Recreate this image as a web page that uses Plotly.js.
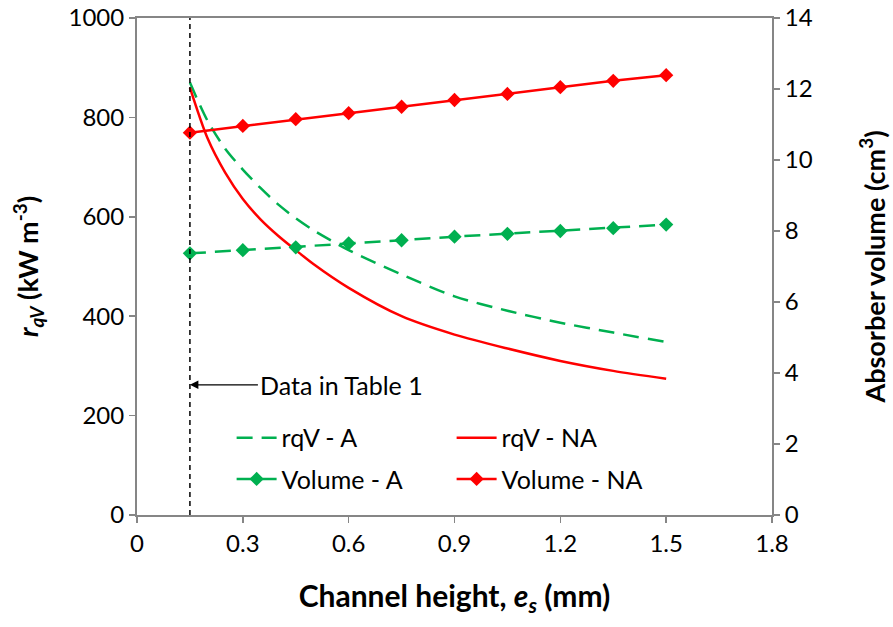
<!DOCTYPE html>
<html>
<head>
<meta charset="utf-8">
<script src="https://cdn.plot.ly/plotly-3.0.1.min.js"></script>
<style>html,body{margin:0;padding:0;background:#fff;}#chart{width:893px;height:627px;}</style>
</head>
<body>
<div id="chart"></div>
<script>
// Channel height (mm) for the rqV curves
const rqvX = [0.15, 0.2, 0.25, 0.3, 0.35, 0.4, 0.45, 0.5, 0.6, 0.75, 0.9, 1.05, 1.2, 1.35, 1.5];
// rqV (kW m-3), case A (dashed green)
const rqvA = [870, 793, 737, 695, 658, 625, 597, 573, 533, 484, 440, 411, 387, 367, 348];
// rqV (kW m-3), case NA (solid red)
const rqvNA = [860, 758, 689, 636, 595, 562, 533, 505, 457, 400, 363, 335, 310, 290, 274];
// Channel height (mm) for the volume points
const volX = [0.15, 0.3, 0.45, 0.6, 0.75, 0.9, 1.05, 1.2, 1.35, 1.5];
// Absorber volume (cm3)
const volA = [7.37, 7.46, 7.54, 7.65, 7.74, 7.84, 7.92, 8.0, 8.08, 8.18];
const volNA = [10.77, 10.96, 11.15, 11.32, 11.50, 11.69, 11.86, 12.05, 12.23, 12.39];
// Marked design point
const tableX = 0.15;
const tableLabelY = 262;

const xTicks = [0, 0.3, 0.6, 0.9, 1.2, 1.5, 1.8];
const yTicks = [0, 200, 400, 600, 800, 1000];
const y2Ticks = [0, 2, 4, 6, 8, 10, 12, 14];

const GREEN = '#00B050';
const RED = '#FF0000';
const AXIS = '#868686';
const FONT = 'Lato, "Open Sans", sans-serif';

const traces = [
  {x: rqvX, y: rqvA, name: 'rqV - A', type: 'scatter', mode: 'lines',
   line: {color: GREEN, width: 2.5, dash: '16px,9px', shape: 'spline', smoothing: 0.8},
   yaxis: 'y', legend: 'legend'},
  {x: rqvX, y: rqvNA, name: 'rqV - NA', type: 'scatter', mode: 'lines',
   line: {color: RED, width: 2.5, shape: 'spline', smoothing: 0.8},
   yaxis: 'y', legend: 'legend'},
  {x: volX, y: volA, name: 'Volume - A', type: 'scatter', mode: 'lines+markers',
   line: {color: GREEN, width: 2.5, dash: '16px,9px'},
   marker: {symbol: 'diamond', size: 11, color: GREEN},
   yaxis: 'y2', legend: 'legend2'},
  {x: volX, y: volNA, name: 'Volume - NA', type: 'scatter', mode: 'lines+markers',
   line: {color: RED, width: 2.5},
   marker: {symbol: 'diamond', size: 11, color: RED},
   yaxis: 'y2', legend: 'legend2'}
];

const legendCommon = {
  orientation: 'h', xanchor: 'left', yanchor: 'middle',
  bgcolor: 'rgba(0,0,0,0)', borderwidth: 0,
  font: {family: FONT, size: 25, color: '#000'},
  entrywidth: 165, entrywidthmode: 'pixels', itemwidth: 40
};

const layout = {
  width: 893, height: 627,
  margin: {l: 137, r: 121, t: 18, b: 112},
  paper_bgcolor: '#fff', plot_bgcolor: '#fff',
  font: {family: FONT, size: 24, color: '#000'},
  showlegend: true,
  hovermode: false,
  xaxis: {
    range: [0, 1.8], tickvals: xTicks, ticktext: xTicks.map(String),
    showgrid: false, zeroline: false,
    showline: true, linecolor: AXIS, linewidth: 2, mirror: true,
    ticks: 'outside', ticklen: 6, tickcolor: AXIS, tickwidth: 1.5,
    tickfont: {family: FONT, size: 24, color: '#000'},
    title: {text: '<b>Channel height, <i>e<sub>s</sub></i> (mm)</b>', font: {family: FONT, size: 30, color: '#000'}, standoff: 30}
  },
  yaxis: {
    range: [0, 1000], tickvals: yTicks, ticktext: yTicks.map(String),
    showgrid: false, zeroline: false,
    showline: true, linecolor: AXIS, linewidth: 2,
    ticks: 'outside', ticklen: 6, tickcolor: AXIS, tickwidth: 1.5,
    tickfont: {family: FONT, size: 24, color: '#000'},
    title: {text: '<b><i>r<sub>qV</sub></i> (kW m<sup>-3</sup>)</b>', font: {family: FONT, size: 27, color: '#000'}, standoff: 22}
  },
  yaxis2: {
    range: [0, 14], tickvals: y2Ticks, ticktext: y2Ticks.map(String),
    overlaying: 'y', side: 'right',
    showgrid: false, zeroline: false,
    showline: true, linecolor: AXIS, linewidth: 2,
    ticks: 'outside', ticklen: 6, tickcolor: AXIS, tickwidth: 1.5,
    tickfont: {family: FONT, size: 24, color: '#000'},
    title: {text: '<b>Absorber volume (cm<sup>3</sup>)</b>', font: {family: FONT, size: 27, color: '#000'}, standoff: 54}
  },
  legend: Object.assign({x: 0.149, y: 0.155}, legendCommon),
  legend2: Object.assign({x: 0.149, y: 0.072}, legendCommon),
  shapes: [
    {type: 'line', xref: 'x', yref: 'paper', x0: tableX, x1: tableX, y0: 0, y1: 1,
     line: {color: '#000', width: 1.5, dash: '5px,4px'}}
  ],
  annotations: [
    {x: tableX, y: tableLabelY, xref: 'x', yref: 'y', text: 'Data in Table 1',
     showarrow: true, ax: 68, ay: 0, xanchor: 'left', yanchor: 'middle',
     arrowhead: 2, arrowsize: 1.3, arrowwidth: 1.3, arrowcolor: '#000',
     font: {family: FONT, size: 25, color: '#000'}}
  ]
};

Plotly.newPlot('chart', traces, layout, {displayModeBar: false, staticPlot: true});
</script>
</body>
</html>
